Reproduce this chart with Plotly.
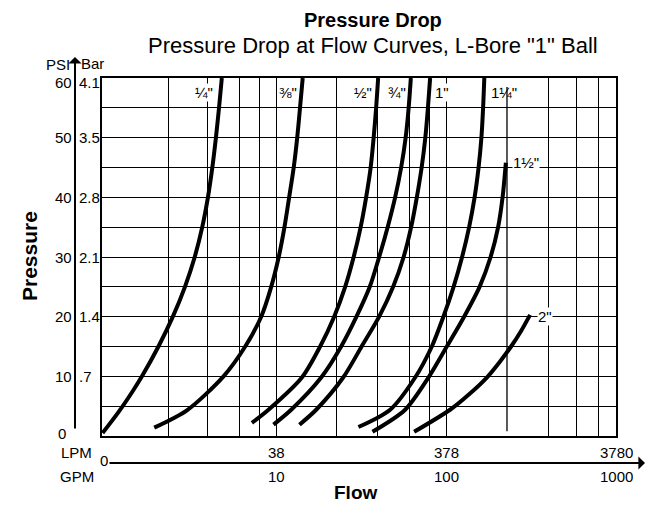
import plotly.graph_objects as go
import math

# ---------------- data (flow in GPM, pressure drop in PSI) ----------------
size_labels = ['¼"', '⅜"', '½"', '¾"', '1"', '1¼"', '1½"', '2"']

gpm_1_4 = [0.942, 1.169, 1.417, 1.607, 2.009, 2.442, 2.877, 3.285, 3.636, 3.928, 4.169, 4.377, 4.565, 4.742]
psi_1_4 = [0.5, 4, 7.5, 10, 15, 20, 25, 30, 35, 40, 45, 50, 55, 60]

gpm_3_8 = [1.898, 2.955, 4.852, 6.511, 8.084, 9.258, 10.25, 11.08, 11.81, 12.56, 13.17, 13.68, 14.19]
psi_3_8 = [1.4, 4.3, 10, 15, 20, 25, 30, 35, 40, 45, 50, 55, 60]

gpm_1_2 = [7.128, 8.925, 14.03, 17.97, 21.73, 25.22, 28.30, 31.11, 33.51, 35.63, 37.11, 38.38, 39.44]
psi_1_2 = [2.2, 4.4, 9.8, 15, 20, 25, 30, 35, 40, 45, 50, 55, 60]

gpm_3_4 = [9.55, 12.14, 18.22, 23.89, 29.39, 35.2, 39.98, 44.86, 49.64, 53.86, 57.24, 59.62, 61.42]
psi_3_4 = [1.9, 4.4, 9.8, 15, 20, 25, 30, 35, 40, 45, 50, 55, 60]

gpm_1 = [13.58, 17.03, 24.55, 31.53, 39.98, 48.32, 55.69, 61.66, 66.60, 71.10, 74.73, 77.41, 79.76]
psi_1 = [1.9, 4.4, 9.8, 15, 20, 25, 30, 35, 40, 45, 50, 55, 60]

gpm_1_1_4 = [30.20, 46.40, 65.09, 81.64, 95.50, 109.6, 123.0, 135.3, 145.7, 153.8, 159.8, 163.5, 166.2]
psi_1_1_4 = [1.5, 4.4, 9.8, 15, 20, 25, 30, 35, 40, 45, 50, 55, 60]

gpm_1_1_2 = [36.51, 56.85, 77.96, 100.0, 126.4, 155.9, 181.0, 200.4, 212.9, 222.6]
psi_1_1_2 = [0.7, 4.4, 9.8, 15, 20, 25, 30, 35, 40, 45.8]

gpm_2 = [64.22, 104.5, 135.3, 171.9, 205.8, 238.9, 273.6, 309.0]
psi_2 = [0.7, 4.4, 7.0, 9.8, 12.5, 15, 17.6, 20.3]

# label anchor points (GPM, PSI)
label_gpm = [3.71, 11.58, 31.97, 50.8, 93.8, 217, 292, 380]
label_psi = [57.5, 57.5, 57.5, 57.5, 57.5, 57.5, 45.9, 20.0]

# axis tick labels
psi_ticks = [0, 10, 20, 30, 40, 50, 60]
bar_ticks = ['.7', '1.4', '2.1', '2.8', '3.5', '4.1']
bar_ticks_psi = [10, 20, 30, 40, 50, 60]
gpm_ticks = [10, 100, 1000]
gpm_tick_text = ['10', '100', '1000']
lpm_tick_text = ['38', '378', '3780']

# grid positions (GPM) as drawn on the chart
x_grid = [2.3, 3.9, 6.0, 7.9, 10, 22.5, 39, 60, 79, 100, 394, 583, 776]
x_grid_short = 226

series = [
    (gpm_1_4, psi_1_4), (gpm_3_8, psi_3_8), (gpm_1_2, psi_1_2), (gpm_3_4, psi_3_4),
    (gpm_1, psi_1), (gpm_1_1_4, psi_1_1_4), (gpm_1_1_2, psi_1_1_2), (gpm_2, psi_2),
]

# ---------------- layout geometry ----------------
W, H = 647, 506
L, R, T, B = 102, 616, 78, 436
XMIN, XMAX = math.log10(0.935), math.log10(990)
FONT = "Liberation Sans, Arial, Helvetica, sans-serif"


def px(x):
    return (x - L) / (R - L)


def py(y):
    return (B - y) / (B - T)


def gx(v):
    return (math.log10(v) - XMIN) / (XMAX - XMIN)


fig = go.Figure()
for (g, p), name in zip(series, size_labels):
    fig.add_trace(go.Scatter(
        x=g, y=p, mode="lines", name=name,
        line=dict(color="black", width=4, shape="spline", smoothing=0.8),
        hoverinfo="x+y+name", showlegend=False,
    ))


def txt(x, y, t, size=15, xa="center", ya="middle", xref="paper", yref="paper", **kw):
    d = dict(x=x, y=y, xref=xref, yref=yref, text=t, showarrow=False,
             font=dict(size=size, color="black", family=FONT), xanchor=xa, yanchor=ya,
             borderpad=0)
    d.update(kw)
    return d


ann = []
# curve labels
for i, (t, lx, ly) in enumerate(zip(size_labels, label_gpm, label_psi)):
    ann.append(txt(gx(lx), ly, t, size=15, yref="y",
                   bgcolor=None if i == 5 else "white"))

# titles
ann.append(txt(px(373), py(20), "<b>Pressure Drop</b>", size=20))
ann.append(txt(px(373), py(45), 'Pressure Drop at Flow Curves, L-Bore "1" Ball', size=22))

# y-axis labels
for v in psi_ticks:
    if v == 0:
        ann.append(txt(px(67), py(433), "0", xa="right"))
    elif v == 60:
        ann.append(txt(px(73), py(82), str(v), xa="right"))
    else:
        ann.append(txt(px(73), v, str(v), xa="right", yref="y"))
for t, v in zip(bar_ticks, bar_ticks_psi):
    if v == 60:
        ann.append(txt(px(78), py(82), t, xa="left"))
    else:
        ann.append(txt(px(78), v, t, xa="left", yref="y"))
ann.append(txt(px(71), py(64), "PSI", xa="right"))
ann.append(txt(px(80), py(63), "Bar", xa="left"))
ann.append(txt(px(29), py(256), "<b>Pressure</b>", size=21, textangle=-90))

# x-axis labels
for v, tl, tg in zip(gpm_ticks, lpm_tick_text, gpm_tick_text):
    ann.append(txt(gx(v), py(452), tl))
    ann.append(txt(gx(v), py(476), tg))
ann.append(txt(px(93), py(452), "LPM", xa="right"))
ann.append(txt(px(95), py(476), "GPM", xa="right"))
ann.append(txt(px(104), py(460), "0"))
ann.append(txt(px(355), py(492), "<b>Flow</b>", size=19))

# axis arrows
ann.append(dict(x=px(75), y=py(57), xref="paper", yref="paper", text="", showarrow=True,
                ax=0, ay=373, axref="pixel", ayref="pixel", arrowhead=1, arrowsize=1.1,
                arrowwidth=2, arrowcolor="black"))
ann.append(dict(x=px(645), y=py(463), xref="paper", yref="paper", text="", showarrow=True,
                ax=-537, ay=0, axref="pixel", ayref="pixel", arrowhead=1, arrowsize=1.1,
                arrowwidth=2, arrowcolor="black"))

shapes = [dict(type="line", xref="x", yref="y", x0=x_grid_short, x1=x_grid_short,
               y0=0.8, y1=58.5, line=dict(color="black", width=1.3), layer="below")]

fig.update_layout(
    width=W, height=H,
    margin=dict(l=L, r=W - R, t=T, b=H - B, pad=0),
    paper_bgcolor="white", plot_bgcolor="white",
    font=dict(family=FONT, color="black"),
    annotations=ann, shapes=shapes, showlegend=False,
    xaxis=dict(type="log", range=[XMIN, XMAX], tickvals=x_grid,
               showticklabels=False, ticks="", showgrid=True, gridcolor="black", gridwidth=1.3,
               showline=True, linecolor="black", linewidth=2, mirror=True, zeroline=False,
               fixedrange=True),
    yaxis=dict(range=[0, 60], dtick=5, showticklabels=False, ticks="", showgrid=True,
               gridcolor="black", gridwidth=1.3, showline=True, linecolor="black", linewidth=2,
               mirror=True, zeroline=False, fixedrange=True),
)

fig.write_html("out.html", config={"displayModeBar": False},
               post_script="document.body.style.margin='0';document.body.style.overflow='hidden';")
